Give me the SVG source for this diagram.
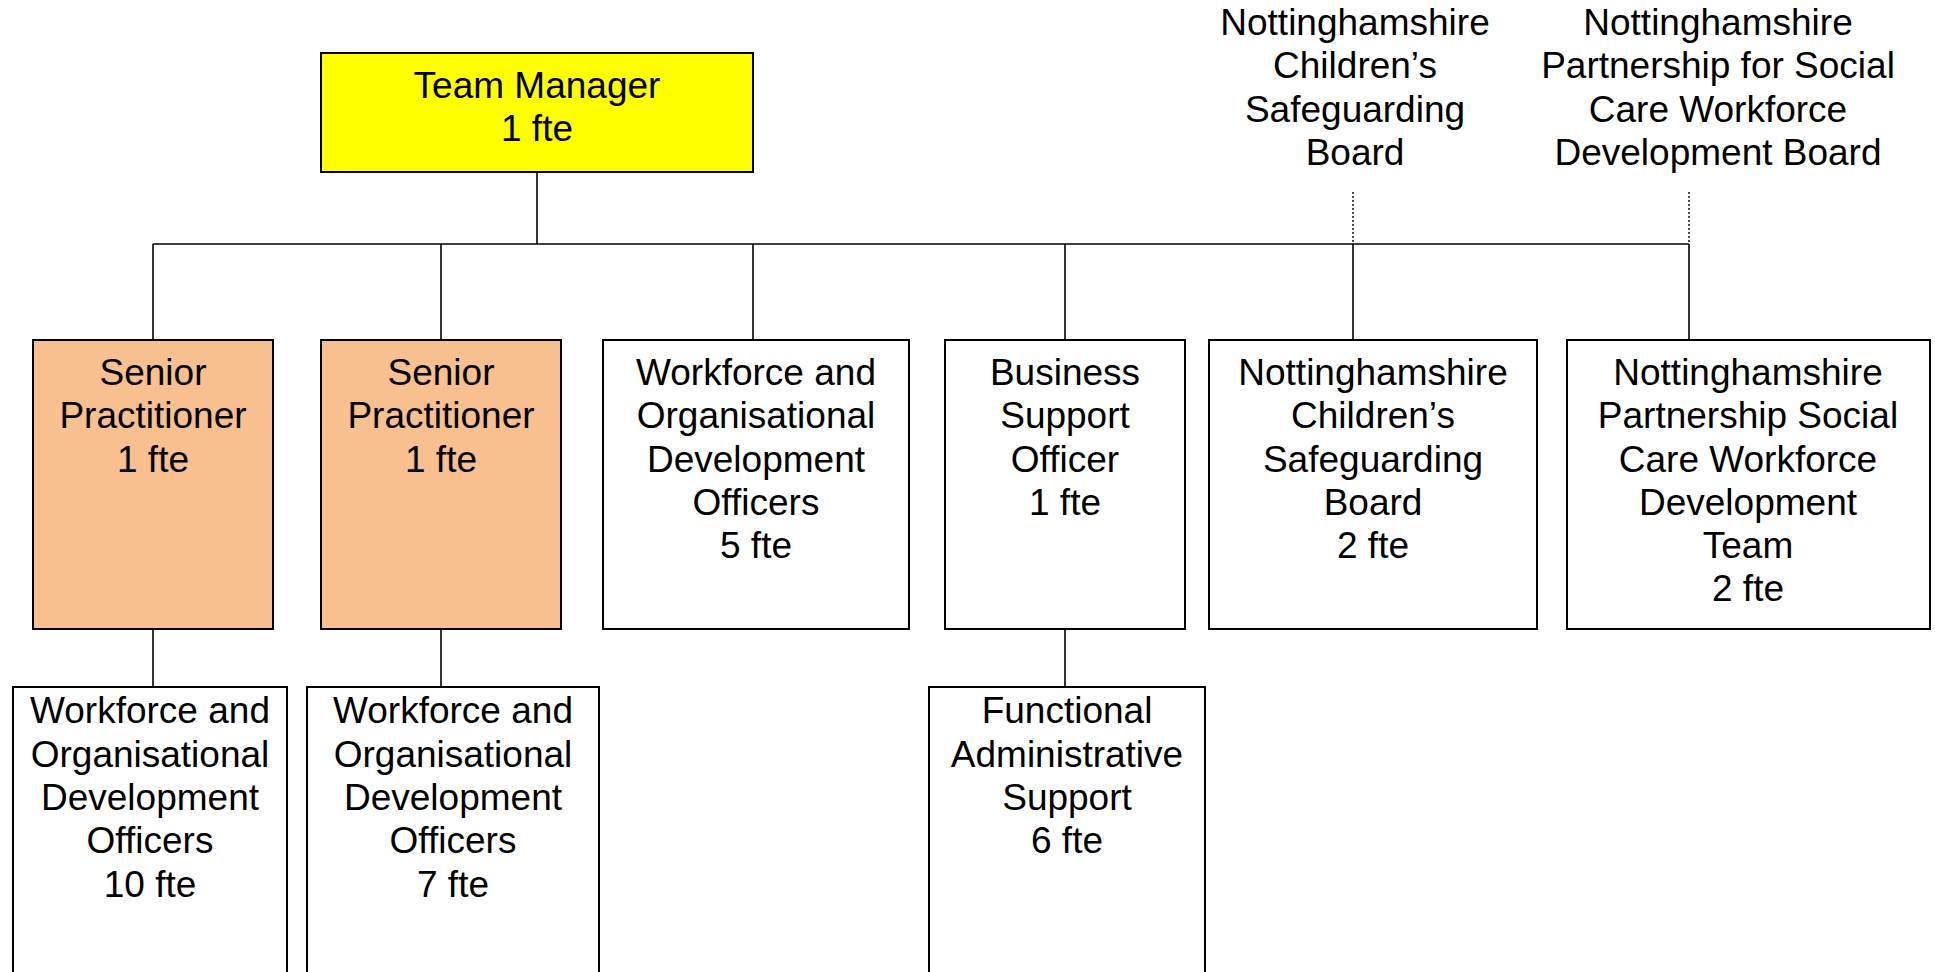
<svg xmlns="http://www.w3.org/2000/svg" width="1935" height="972" viewBox="0 0 1935 972">
<style>
.box{stroke:#000;stroke-width:2;fill:#fff}
.tm{fill:#ffff00}
.sp{fill:#f8bf8f}
.ln{stroke:#000;stroke-width:1.6;fill:none}
.dot{stroke:#000;stroke-width:1.4;stroke-dasharray:2 2;fill:none}
text{font-family:"Liberation Sans",Arial,sans-serif;font-size:37px;fill:#000;text-anchor:middle}
</style>
<rect width="1935" height="972" fill="#fff"/>
<g id="connectors">
<line class="ln" x1="537" y1="172" x2="537" y2="244"/>
<line class="ln" x1="153" y1="244" x2="1689" y2="244"/>
<line class="ln" x1="153" y1="244" x2="153" y2="340"/>
<line class="ln" x1="441" y1="244" x2="441" y2="340"/>
<line class="ln" x1="753" y1="244" x2="753" y2="340"/>
<line class="ln" x1="1065" y1="244" x2="1065" y2="340"/>
<line class="ln" x1="1353" y1="244" x2="1353" y2="340"/>
<line class="ln" x1="1689" y1="244" x2="1689" y2="340"/>
<line class="ln" x1="153" y1="629" x2="153" y2="687"/>
<line class="ln" x1="441" y1="629" x2="441" y2="687"/>
<line class="ln" x1="1065" y1="629" x2="1065" y2="687"/>
<line class="dot" x1="1353" y1="192" x2="1353" y2="244"/>
<line class="dot" x1="1689" y1="192" x2="1689" y2="244"/>
</g>
<g id="team-manager">
<rect class="box tm" x="321" y="53" width="432" height="119"/>
<text x="537" y="98">Team Manager</text>
<text x="537" y="141">1 fte</text>
</g>
<g id="senior-1">
<rect class="box sp" x="33" y="340" width="240" height="289"/>
<text x="153" y="385">Senior</text>
<text x="153" y="428">Practitioner</text>
<text x="153" y="472">1 fte</text>
</g>
<g id="senior-2">
<rect class="box sp" x="321" y="340" width="240" height="289"/>
<text x="441" y="385">Senior</text>
<text x="441" y="428">Practitioner</text>
<text x="441" y="472">1 fte</text>
</g>
<g id="wod-5">
<rect class="box" x="603" y="340" width="306" height="289"/>
<text x="756" y="385">Workforce and</text>
<text x="756" y="428">Organisational</text>
<text x="756" y="472">Development</text>
<text x="756" y="515">Officers</text>
<text x="756" y="558">5 fte</text>
</g>
<g id="business-support">
<rect class="box" x="945" y="340" width="240" height="289"/>
<text x="1065" y="385">Business</text>
<text x="1065" y="428">Support</text>
<text x="1065" y="472">Officer</text>
<text x="1065" y="515">1 fte</text>
</g>
<g id="ncsb-team">
<rect class="box" x="1209" y="340" width="328" height="289"/>
<text x="1373" y="385">Nottinghamshire</text>
<text x="1373" y="428">Children’s</text>
<text x="1373" y="472">Safeguarding</text>
<text x="1373" y="515">Board</text>
<text x="1373" y="558">2 fte</text>
</g>
<g id="npscwd-team">
<rect class="box" x="1567" y="340" width="363" height="289"/>
<text x="1748" y="385">Nottinghamshire</text>
<text x="1748" y="428">Partnership Social</text>
<text x="1748" y="472">Care Workforce</text>
<text x="1748" y="515">Development</text>
<text x="1748" y="558">Team</text>
<text x="1748" y="601">2 fte</text>
</g>
<g id="wod-10">
<rect class="box" x="13" y="687" width="274" height="310"/>
<text x="150" y="723">Workforce and</text>
<text x="150" y="767">Organisational</text>
<text x="150" y="810">Development</text>
<text x="150" y="853">Officers</text>
<text x="150" y="897">10 fte</text>
</g>
<g id="wod-7">
<rect class="box" x="307" y="687" width="292" height="310"/>
<text x="453" y="723">Workforce and</text>
<text x="453" y="767">Organisational</text>
<text x="453" y="810">Development</text>
<text x="453" y="853">Officers</text>
<text x="453" y="897">7 fte</text>
</g>
<g id="functional-admin">
<rect class="box" x="929" y="687" width="276" height="310"/>
<text x="1067" y="723">Functional</text>
<text x="1067" y="767">Administrative</text>
<text x="1067" y="810">Support</text>
<text x="1067" y="853">6 fte</text>
</g>
<g id="ncsb-board">
<text x="1355" y="35">Nottinghamshire</text>
<text x="1355" y="78">Children’s</text>
<text x="1355" y="122">Safeguarding</text>
<text x="1355" y="165">Board</text>
</g>
<g id="npscwd-board">
<text x="1718" y="35">Nottinghamshire</text>
<text x="1718" y="78">Partnership for Social</text>
<text x="1718" y="122">Care Workforce</text>
<text x="1718" y="165">Development Board</text>
</g>
</svg>
